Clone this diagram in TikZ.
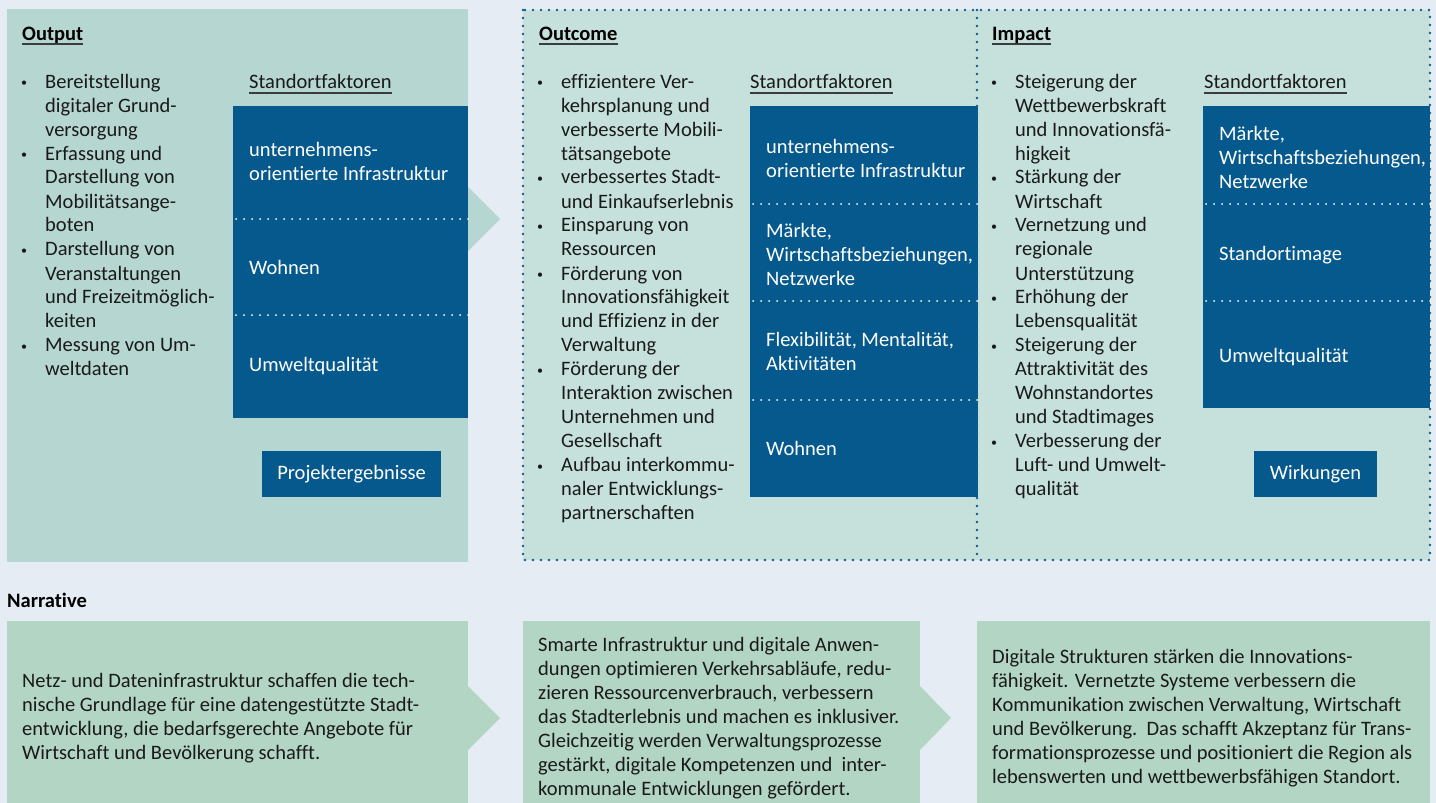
\documentclass[tikz,border=0pt]{standalone}
\usepackage{fontspec}
\setmainfont{Carlito}[Ligatures=NoCommon]
\usetikzlibrary{positioning}

\definecolor{bgcol}{HTML}{E5ECF3}
\definecolor{outfill}{HTML}{B5D6D1}
\definecolor{midfill}{HTML}{C6E1DC}
\definecolor{darkblue}{HTML}{05598D}
\definecolor{narfill}{HTML}{B3D5C3}
\definecolor{dotblue}{HTML}{0B5E96}
\definecolor{txtcol}{HTML}{1A1A1A}

\newcommand{\bl}{\raisebox{1.6pt}{\fontsize{12}{24}\selectfont\textbullet}}
\newcommand{\blist}[1]{\begin{tabular}[t]{@{}p{24pt}@{}l@{}}#1\end{tabular}}

\tikzset{
  basefont/.style={font=\fontsize{20.5}{24}\selectfont},
  heading/.style={anchor=base west,font=\fontsize{20.5}{24}\selectfont\bfseries,text=black},
  subhead/.style={anchor=base west,basefont,text=txtcol},
  headrule/.style={draw=txtcol!85,line width=1.6pt},
  factor/.style={anchor=west,align=left,text=white,basefont},
  badge/.style={fill=darkblue,text=white,basefont,minimum height=46pt,inner xsep=14pt},
  whitedots/.style={white,line width=2pt,line cap=round,dash pattern=on 0pt off 8pt},
  bluedots/.style={dotblue,line width=2.6pt,line cap=round,dash pattern=on 0pt off 8pt},
  narrtext/.style={anchor=west,align=left,basefont,text=txtcol},
}

\begin{document}
\begin{tikzpicture}[x=1pt,y=-1pt,every node/.style={inner sep=0pt}]
\useasboundingbox (0,0) rectangle (1436,803);
\fill[bgcol] (0,0) rectangle (1436,803);

%panels
\fill[outfill] (7,9) rectangle (468,562);
\fill[outfill] (468,187) -- (500,219) -- (468,251) -- cycle;
\fill[midfill] (523,10) rectangle (1430,560);

%headings
\node[heading] (outtitle) at (22,40) {Output};
\node[heading] (oactitle) at (539,40) {Outcome};
\node[heading] (imptitle) at (992,40) {Impact};
\foreach \n in {outtitle,oactitle,imptitle}
  \draw[headrule] ([yshift=-4pt]\n.base west) -- ([yshift=-4pt]\n.base east);

\node[subhead] (outfak) at (249,88) {Standortfaktoren};
\node[subhead] (oacfak) at (750,88) {Standortfaktoren};
\node[subhead] (impfak) at (1204,88) {Standortfaktoren};
\foreach \n in {outfak,oacfak,impfak}
  \draw[headrule] ([yshift=-5pt]\n.base west) -- ([yshift=-5pt]\n.base east);

%lists
\node[subhead] (outlist) at (21,88) {\blist{
\bl & Bereitstellung\\
 & digitaler Grund-\\
 & versorgung\\
\bl & Erfassung und\\
 & Darstellung von\\
 & Mobilitätsange-\\
 & boten\\
\bl & Darstellung von\\
 & Veranstaltungen\\
 & und Freizeitmöglich-\\
 & keiten\\
\bl & Messung von Um-\\
 & weltdaten}};

\node[subhead] (oaclist) at (537,88) {\blist{
\bl & effizientere Ver-\\
 & kehrsplanung und\\
 & verbesserte Mobili-\\
 & tätsangebote\\
\bl & verbessertes Stadt-\\
 & und Einkaufserlebnis\\
\bl & Einsparung von\\
 & Ressourcen\\
\bl & Förderung von\\
 & Innovationsfähigkeit\\
 & und Effizienz in der\\
 & Verwaltung\\
\bl & Förderung der\\
 & Interaktion zwischen\\
 & Unternehmen und\\
 & Gesellschaft\\
\bl & Aufbau interkommu-\\
 & naler Entwicklungs-\\
 & partnerschaften}};

\node[subhead] (implist) at (991,88) {\blist{
\bl & Steigerung der\\
 & Wettbewerbskraft\\
 & und Innovationsfä-\\
 & higkeit\\
\bl & Stärkung der\\
 & Wirtschaft\\
\bl & Vernetzung und\\
 & regionale\\
 & Unterstützung\\
\bl & Erhöhung der\\
 & Lebensqualität\\
\bl & Steigerung der\\
 & Attraktivität des\\
 & Wohnstandortes\\
 & und Stadtimages\\
\bl & Verbesserung der\\
 & Luft- und Umwelt-\\
 & qualität}};

%factor columns
\fill[darkblue] (233,106) rectangle (468,418);
\draw[whitedots] (236,219) -- (468,219);
\draw[whitedots] (236,315) -- (468,315);
\node[factor] (outf1) at (249,161) {unternehmens-\\orientierte Infrastruktur};
\node[factor] (outf2) at (249,267) {Wohnen};
\node[factor] (outf3) at (249,366) {Umweltqualität};

\fill[darkblue] (750,106) rectangle (978,497);
\draw[whitedots] (753,204) -- (978,204);
\draw[whitedots] (753,301) -- (978,301);
\draw[whitedots] (753,400) -- (978,400);
\node[factor] (oacf1) at (766,158) {unternehmens-\\orientierte Infrastruktur};
\node[factor] (oacf2) at (766,254) {Märkte,\\Wirtschaftsbeziehungen,\\Netzwerke};
\node[factor] (oacf3) at (766,351) {Flexibilität, Mentalität,\\Aktivitäten};
\node[factor] (oacf4) at (766,448) {Wohnen};

\fill[darkblue] (1203,106) rectangle (1430,408);
\draw[whitedots] (1206,204) -- (1430,204);
\draw[whitedots] (1206,301) -- (1430,301);
\node[factor] (impf1) at (1219,157) {Märkte,\\Wirtschaftsbeziehungen,\\Netzwerke};
\node[factor] (impf2) at (1219,255) {Standortimage};
\node[factor] (impf3) at (1219,357) {Umweltqualität};

%badges
\node[badge,minimum width=179pt] (ergebnis) at (351.5,474) {Projektergebnisse};
\node[badge,minimum width=123pt] (wirkung) at (1315.5,474) {Wirkungen};

%dotted frame
\draw[bluedots] (523,10) rectangle (1430,560);
\draw[bluedots] (977,10) -- (977,560);

%narrative
\node[heading] (narrtitle) at (7,607) {Narrative};
\fill[narfill] (7,621) rectangle (468,803);
\fill[narfill] (468,686) -- (500,718) -- (468,750) -- cycle;
\fill[narfill] (523,621) rectangle (920,803);
\fill[narfill] (920,686) -- (951,718) -- (920,750) -- cycle;
\fill[narfill] (977,621) rectangle (1430,803);

\node[narrtext] (narr1) at (22,718) {Netz- und Dateninfrastruktur schaffen die tech-\\
nische Grundlage für eine datengestützte Stadt-\\
entwicklung, die bedarfsgerechte Angebote für\\
Wirtschaft und Bevölkerung schafft.};
\node[narrtext] (narr2) at (538,718) {Smarte Infrastruktur und digitale Anwen-\\
dungen optimieren Verkehrsabläufe, redu-\\
zieren Ressourcenverbrauch, verbessern\\
das Stadterlebnis und machen es inklusiver.\\
Gleichzeitig werden Verwaltungsprozesse\\
gestärkt, digitale Kompetenzen und\ \ inter-\\
kommunale Entwicklungen gefördert.};
\node[narrtext] (narr3) at (992,718) {Digitale Strukturen stärken die Innovations-\\
fähigkeit. Vernetzte Systeme verbessern die\\
Kommunikation zwischen Verwaltung, Wirtschaft\\
und Bevölkerung.\ \ Das schafft Akzeptanz für Trans-\\
formationsprozesse und positioniert die Region als\\
lebenswerten und wettbewerbsfähigen Standort.};
\end{tikzpicture}
\end{document}
